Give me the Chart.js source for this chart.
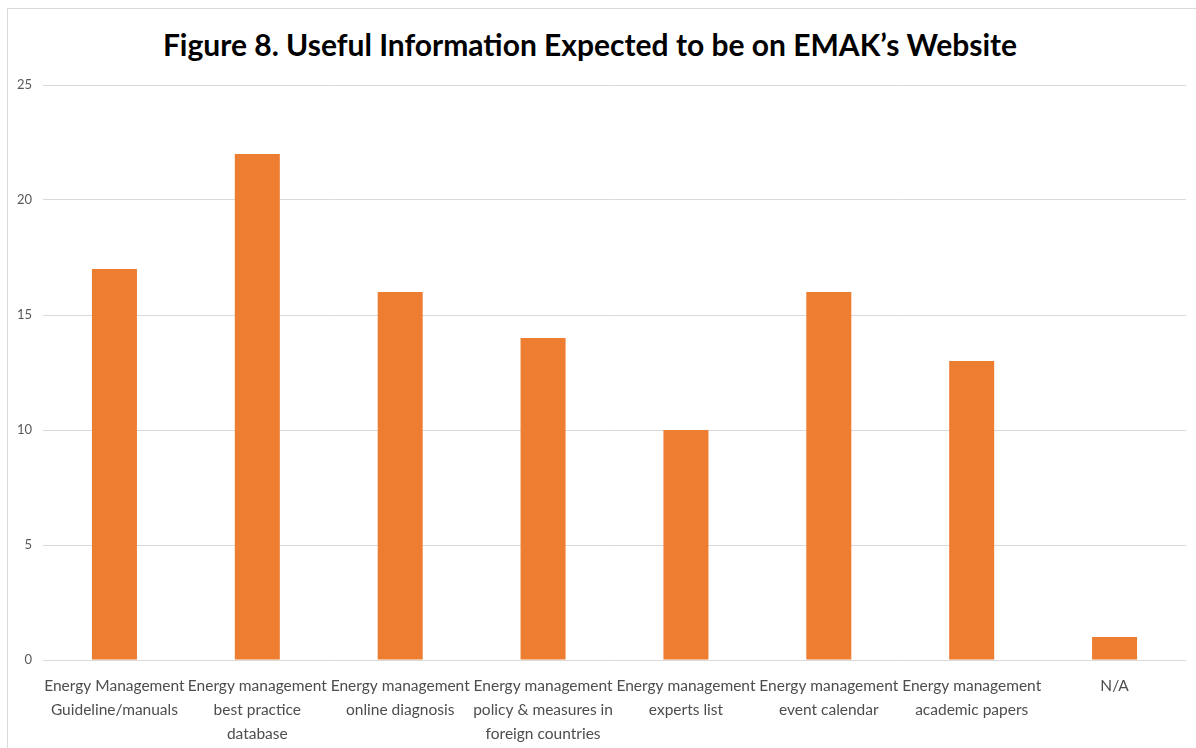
<!DOCTYPE html>
<html>
<head>
<meta charset="utf-8">
<script src="https://cdn.jsdelivr.net/npm/chart.js@4.4.1/dist/chart.umd.min.js"></script>
<style>
  html, body { margin: 0; padding: 0; background: #ffffff; width: 1196px; height: 748px; overflow: hidden; }
  #frame { position: absolute; left: 7px; top: 8px; width: 1220px; height: 780px; border: 1px solid #d9d9d9; box-sizing: border-box; }
  #title { position: absolute; left: 0; width: 1180px; top: 24px; text-align: center; font-family: Lato, "Open Sans", sans-serif; font-weight: bold; font-size: 30px; color: #000; line-height: 40px; }
  canvas { position: absolute; left: 0; top: 0; }
</style>
</head>
<body>
<div id="frame"></div>
<div id="title">Figure 8. Useful Information Expected to be on EMAK’s Website</div>
<canvas id="c" width="1196" height="748"></canvas>
<script>
const categories = [
  ["Energy Management", "Guideline/manuals"],
  ["Energy management", "best practice", "database"],
  ["Energy management", "online diagnosis"],
  ["Energy management", "policy & measures in", "foreign countries"],
  ["Energy management", "experts list"],
  ["Energy management", "event calendar"],
  ["Energy management", "academic papers"],
  "N/A"
];
const counts = [17, 22, 16, 14, 10, 16, 13, 1];
const yMin = 0, yMax = 25, yStep = 5;

new Chart(document.getElementById('c'), {
  type: 'bar',
  data: {
    labels: categories,
    datasets: [{
      data: counts,
      backgroundColor: '#ED7D31',
      borderWidth: 0,
      barPercentage: 0.315,
      categoryPercentage: 1.0
    }]
  },
  options: {
    responsive: false,
    animation: false,
    devicePixelRatio: 1,
    layout: { padding: { top: 85, right: 10, left: 0, bottom: 0 } },
    plugins: { legend: { display: false }, title: { display: false }, tooltip: { enabled: false } },
    scales: {
      x: {
        grid: { display: false },
        border: { display: false },
        ticks: {
          color: '#4d4d4d',
          font: { family: 'Lato, "Open Sans", sans-serif', size: 15.5, lineHeight: 1.55 },
          padding: 6,
          maxRotation: 0,
          autoSkip: false
        },
        afterFit: (s) => { s.height = 88; }
      },
      y: {
        min: yMin, max: yMax,
        grid: { color: '#d9d9d9', lineWidth: 1, drawTicks: false },
        border: { display: false },
        ticks: {
          stepSize: yStep,
          color: '#595959',
          font: { family: 'Lato, "Open Sans", sans-serif', size: 13 },
          padding: 11
        },
        afterFit: (s) => { s.width = 43; }
      }
    }
  }
});
</script>
</body>
</html>
